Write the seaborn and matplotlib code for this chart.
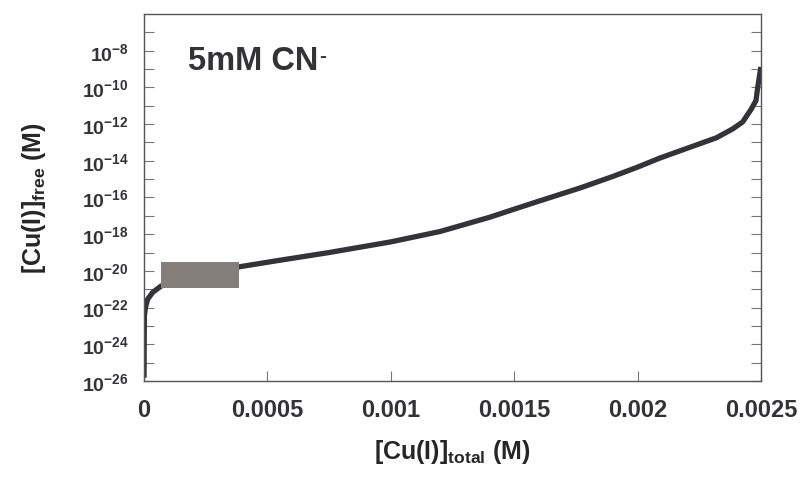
import numpy as np
import pandas as pd
import seaborn as sns
import matplotlib.pyplot as plt

# values
cu_total = [0.0000005, 0.000001, 0.000002, 0.000006, 0.0000154, 0.0000357, 0.0000697,
            0.0002, 0.00039, 0.00054, 0.00075, 0.0010, 0.0012, 0.0014, 0.0015,
            0.0016, 0.00177, 0.0019, 0.0020, 0.00209, 0.00232, 0.002386, 0.002426,
            0.00246, 0.00248, 0.002487, 0.0025]
cu_free = [1.5e-26, 5.5e-25, 3.6e-23, 1.0e-22, 2.9e-22, 6.8e-22, 1.5e-21,
           6.8e-21, 1.7e-20, 3.6e-20, 1.0e-19, 3.8e-19, 1.4e-18, 8.3e-18, 2.3e-17,
           6.3e-17, 3.4e-16, 1.4e-15, 4.5e-15, 1.4e-14, 1.8e-13, 5.5e-13, 1.3e-12,
           6.3e-12, 1.9e-11, 1.0e-10, 1.3e-9]

# shaded box
box_x = [0.00007, 0.000387]
box_y = [1.2e-21, 2.9e-20]

xticks = [0, 0.0005, 0.001, 0.0015, 0.002, 0.0025]
xticklabels = ['0', '0.0005', '0.001', '0.0015', '0.002', '0.0025']
yexps = list(range(-26, -6))

sns.set_theme(style='white')
plt.rcParams['font.family'] = ['Liberation Sans', 'DejaVu Sans']
plt.rcParams['font.weight'] = 'bold'
plt.rcParams['mathtext.fontset'] = 'custom'
plt.rcParams['mathtext.rm'] = 'Liberation Sans:bold'
plt.rcParams['mathtext.bf'] = 'Liberation Sans:bold'
plt.rcParams['mathtext.it'] = 'Liberation Sans:bold'
plt.rcParams['text.color'] = '#333336'

fig = plt.figure(figsize=(8.04, 4.85), dpi=100)
ax = fig.add_axes([0.179, 0.2124, 0.7674, 0.7567])

df = pd.DataFrame({'total': cu_total, 'free': cu_free})
sns.lineplot(data=df, x='total', y='free', ax=ax, color='#333338', linewidth=3.8,
             estimator=None, sort=False, legend=False,
             solid_joinstyle='round', solid_capstyle='butt')
ax.set_yscale('log')
ax.fill_between(box_x, box_y[0], box_y[1], color='#857f7b', linewidth=0, zorder=3)

ax.set_xlim(0, 0.0025)
ax.set_ylim(1e-26, 1e-6)

ax.set_xticks(xticks)
ax.set_xticklabels(xticklabels, fontsize=17, color='#333336')
ax.set_yticks([10.0 ** e for e in yexps])
ax.set_yticklabels([r'$10^{%d}$' % e if e % 2 == 0 else '' for e in yexps],
                   fontsize=14, color='#333336')
ax.minorticks_off()
ax.tick_params(axis='both', direction='in', length=7.2, width=0.8, color='#777777')
ax.tick_params(axis='x', pad=12, bottom=True, top=False)
ax.tick_params(axis='y', pad=11, left=True, right=True)

for sp in ax.spines.values():
    sp.set_color('#555555')
    sp.set_linewidth(1)

ax.set_xlabel(r'[Cu(I)]$_{\mathrm{total}}$ (M)', fontsize=18, fontweight='bold',
              labelpad=12)
ax.set_ylabel(r'[Cu(I)]$_{\mathrm{free}}$ (M)', fontsize=18, fontweight='bold',
              labelpad=24)

t = ax.text(0.071, 0.85, '5mM CN', transform=ax.transAxes, fontsize=23.5,
            fontweight='bold', ha='left', va='baseline')
ax.annotate('-', xy=(1, 1), xycoords=t, xytext=(0.5, -1), textcoords='offset points',
            fontsize=15, fontweight='bold', ha='left', va='top', color='#333336')

fig.savefig('out.png', dpi=100)
